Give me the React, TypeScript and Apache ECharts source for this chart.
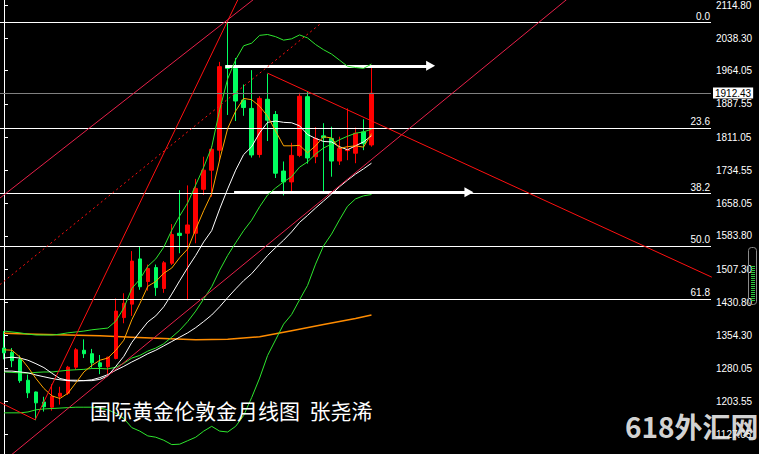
import React, { useEffect, useRef } from "react";
import * as echarts from "echarts";

// ---------- DATA ----------
const startYear = 2018;
const startMonth = 4;
const totalSlots = 89; // visible monthly slots (candles + empty future space)

const opens = [1326, 1316, 1300, 1252, 1225, 1202, 1190, 1215, 1222, 1282, 1321, 1313, 1292, 1283, 1302, 1396, 1427, 1531, 1479, 1511, 1463, 1521, 1590, 1590, 1590, 1691, 1735, 1781, 1975, 1969, 1896, 1877, 1771, 1898, 1863, 1733, 1708, 1769, 1904, 1766, 1814, 1808, 1756, 1780, 1774, 1823, 1793];
const highs = [1365, 1326, 1309, 1265, 1226, 1214, 1243, 1237, 1285, 1326, 1346, 1324, 1310, 1306, 1440, 1452, 1549, 1559, 1518, 1518, 1526, 1611, 1689, 1700, 1715, 1766, 1790, 1984, 2075, 1993, 1932, 1965, 1905, 1957, 1871, 1755, 1798, 1913, 1916, 1834, 1843, 1835, 1812, 1877, 1833, 1852, 1973];
const lows = [1300, 1282, 1246, 1211, 1160, 1180, 1182, 1196, 1218, 1276, 1303, 1281, 1266, 1266, 1300, 1383, 1400, 1460, 1458, 1446, 1453, 1517, 1544, 1436, 1567, 1678, 1674, 1757, 1862, 1848, 1860, 1764, 1764, 1802, 1717, 1677, 1686, 1765, 1750, 1751, 1687, 1720, 1747, 1758, 1751, 1781, 1789];
const closes = [1315, 1297, 1251, 1223, 1200, 1191, 1215, 1222, 1282, 1322, 1313, 1292, 1283, 1305, 1411, 1429, 1526, 1467, 1509, 1465, 1522, 1587, 1585, 1609, 1693, 1735, 1783, 1973, 1969, 1894, 1879, 1770, 1900, 1850, 1728, 1708, 1769, 1905, 1763, 1808, 1810, 1756, 1785, 1782, 1820, 1796, 1912];

// indicator lines read per candle
const ma5 = [1322, 1321, 1305, 1282, 1256, 1233, 1216, 1210, 1222, 1246, 1271, 1286, 1298, 1303, 1321, 1344, 1391, 1428, 1468, 1479, 1498, 1510, 1534, 1554, 1599, 1642, 1681, 1759, 1831, 1871, 1900, 1897, 1882, 1859, 1825, 1791, 1791, 1792, 1775, 1791, 1812, 1809, 1785, 1789, 1791, 1788, 1819];
const ma10 = [1303, 1305, 1303, 1298, 1290, 1281, 1268, 1256, 1252, 1252, 1251, 1251, 1254, 1262, 1284, 1307, 1339, 1363, 1386, 1400, 1421, 1450, 1481, 1511, 1539, 1570, 1596, 1646, 1692, 1735, 1771, 1789, 1821, 1845, 1848, 1845, 1844, 1837, 1817, 1808, 1801, 1800, 1789, 1782, 1791, 1800, 1814];
const ma30 = [1273, 1273, 1271, 1269, 1264, 1260, 1256, 1253, 1251, 1250, 1251, 1253, 1258, 1265, 1275, 1284, 1294, 1303, 1313, 1321, 1331, 1341, 1351, 1361, 1373, 1387, 1402, 1421, 1442, 1462, 1481, 1497, 1518, 1539, 1557, 1574, 1593, 1615, 1631, 1648, 1664, 1680, 1697, 1712, 1726, 1738, 1751];
const bbMid = [1271, 1270, 1269, 1268, 1270, 1271, 1271, 1273, 1275, 1276, 1277, 1279, 1279, 1278, 1282, 1291, 1303, 1309, 1319, 1326, 1336, 1351, 1367, 1387, 1411, 1439, 1467, 1505, 1539, 1568, 1596, 1620, 1651, 1678, 1694, 1708, 1720, 1742, 1754, 1772, 1786, 1795, 1805, 1813, 1820, 1823, 1829];
const bbUpper = [1365, 1363, 1361, 1358, 1356, 1356, 1356, 1358, 1361, 1363, 1365, 1368, 1370, 1372, 1388, 1418, 1463, 1484, 1514, 1531, 1558, 1597, 1630, 1660, 1701, 1742, 1788, 1874, 1945, 1989, 2021, 2027, 2045, 2047, 2042, 2034, 2037, 2046, 2039, 2024, 2012, 2002, 1988, 1974, 1971, 1969, 1979];
const bbLower = [1177, 1177, 1177, 1179, 1184, 1186, 1187, 1188, 1189, 1190, 1190, 1190, 1188, 1184, 1176, 1164, 1143, 1135, 1124, 1121, 1114, 1104, 1105, 1113, 1121, 1135, 1146, 1135, 1133, 1146, 1171, 1212, 1257, 1309, 1345, 1381, 1403, 1437, 1470, 1519, 1561, 1588, 1621, 1652, 1669, 1676, 1679];
const longMaIdx = [0, 4, 8, 12, 16, 20, 24, 28, 32, 36, 40, 44, 46];
const longMaVal = [1360, 1358, 1356, 1354, 1351, 1348, 1345, 1346, 1352, 1366, 1380, 1394, 1402];

// drawn objects: [slot index, price]
const steepLine = [[3.9, 1161], [29.3, 2128]];
const upperChannel = [[-0.5, 1671], [31.2, 2127]];
const midDashed = [[-0.5, 1472], [39.7, 2073]];
const lowerChannel = [[-0.5, 1059], [71, 2136]];
const leftLine = [[-0.5, 1201], [3.9, 1161]];
const downTrend = [[33, 1958], [88.6, 1489]];
const arrowUpper = [[27.7, 1975], [53.4, 1975]];
const arrowLower = [[28.8, 1684], [58.2, 1684]];

const fibHigh = 2075.5;
const fibLow = 1046;
const fibLevels = [0, 23.6, 38.2, 50, 61.8];
const lastPrice = 1912.43;

const yTicks = [2114.8, 2038.3, 1964.05, 1887.55, 1811.05, 1734.55, 1658.05, 1583.8, 1507.3, 1430.8, 1354.3, 1280.05, 1203.55, 1127.05];
const yMin = 1082.38;
const yMax = 2126.3;

const titleText = "国际黄金伦敦金月线图  张尧浠";
const watermark = "618外汇网";

// ---------- COMPONENT ----------
export default function App() {
  const ref = useRef<HTMLDivElement>(null);

  useEffect(() => {
    document.body.style.margin = "0";
    document.body.style.background = "#000";
    if (!ref.current) return;
    const chart = echarts.init(ref.current, undefined, { renderer: "svg" });

    const cats: string[] = [];
    for (let i = 0; i < totalSlots; i++) {
      const m = startMonth - 1 + i;
      const y = startYear + Math.floor(m / 12);
      cats.push(`${y}-${String((m % 12) + 1).padStart(2, "0")}`);
    }

    const lineSeries = (data: number[][], color: string, width: number, z: number, type: any = "solid") => ({
      type: "line",
      xAxisIndex: 1,
      yAxisIndex: 0,
      data,
      symbol: "none",
      silent: true,
      z,
      lineStyle: { color, width, type },
    });
    const perCandle = (arr: number[]) => arr.map((v, i) => [i, v]);

    const fibMark = fibLevels.map((lv) => ({
      yAxis: fibHigh - (fibHigh - fibLow) * lv / 100,
      label: {
        show: true,
        position: "insideEndTop",
        formatter: lv.toFixed(1),
        color: "#fff",
        fontSize: 10,
        fontFamily: "Liberation Sans",
        distance: 1,
      },
    }));

    const stripes: any[] = [];
    for (let k = 0; k < 18; k++) {
      stripes.push({
        type: "line",
        shape: { x1: 751, y1: 266.5 + k * 2, x2: 755, y2: 266.5 + k * 2 },
        style: { stroke: "#2ecc40", lineWidth: 1 },
        z: 100,
      });
    }

    const option: any = {
      animation: false,
      backgroundColor: "#000",
      grid: { left: -1.5, right: 48, top: 0, bottom: 0 },
      xAxis: [
        { type: "category", data: cats, show: false, boundaryGap: true },
        { type: "value", min: -0.5, max: totalSlots - 0.5, show: false },
      ],
      yAxis: {
        type: "value",
        position: "right",
        min: yMin,
        max: yMax,
        splitLine: { show: false },
        axisLine: { show: true, lineStyle: { color: "#fff", width: 1 } },
        axisTick: { show: true, length: 4, lineStyle: { color: "#fff" }, customValues: yTicks },
        axisLabel: {
          color: "#fff",
          fontSize: 10,
          fontFamily: "Liberation Sans",
          margin: 5,
          customValues: yTicks,
          formatter: (v: number) => v.toFixed(2),
        },
      },
      series: [
        lineSeries(longMaIdx.map((x, i) => [x, longMaVal[i]]), "#ff8c00", 1.5, 2),
        {
          type: "candlestick",
          xAxisIndex: 0,
          yAxisIndex: 0,
          barWidth: 4,
          z: 3,
          data: opens.map((o, i) => [o, closes[i], lows[i], highs[i]]),
          itemStyle: {
            color: "#ff0000",
            color0: "#00ff60",
            borderColor: "#ff0000",
            borderColor0: "#00ff60",
            borderWidth: 1,
          },
        },
        {
          type: "line",
          xAxisIndex: 1,
          yAxisIndex: 0,
          data: [],
          z: 4,
          silent: true,
          markLine: {
            silent: true,
            symbol: "none",
            animation: false,
            lineStyle: { color: "#fff", width: 1, type: "solid" },
            data: [
              ...fibMark,
              {
                yAxis: lastPrice,
                lineStyle: { color: "#808080", width: 1, type: "solid" },
                label: {
                  show: true,
                  position: "end",
                  formatter: lastPrice.toFixed(2),
                  backgroundColor: "#fff",
                  color: "#000",
                  fontSize: 10,
                  fontFamily: "Liberation Sans",
                  padding: [1, 2, 0, 2],
                  distance: 2,
                },
              },
            ],
          },
        },
        lineSeries(perCandle(bbUpper), "#2ee62e", 1, 5),
        lineSeries(perCandle(bbMid), "#2ee62e", 1, 5),
        lineSeries(perCandle(bbLower), "#2ee62e", 1, 5),
        lineSeries(perCandle(ma30), "#ffffff", 1, 5),
        lineSeries(perCandle(ma10), "#ffffff", 1, 5),
        lineSeries(perCandle(ma5), "#ffa500", 1, 5),
        lineSeries(steepLine, "#ff1010", 1, 6),
        lineSeries(upperChannel, "#e8204a", 1, 6),
        lineSeries(midDashed, "#ff1010", 1, 6, [2, 3]),
        lineSeries(lowerChannel, "#e8204a", 1, 6),
        lineSeries(leftLine, "#ff1010", 1, 6),
        lineSeries(downTrend, "#ff1010", 1, 6),
        {
          type: "line",
          xAxisIndex: 1,
          yAxisIndex: 0,
          data: [],
          z: 7,
          silent: true,
          markLine: {
            silent: true,
            animation: false,
            symbol: ["none", "triangle"],
            symbolSize: [10, 9],
            label: { show: false },
            lineStyle: { color: "#ffffff", width: 3, type: "solid" },
            data: [
              [{ coord: arrowUpper[0] }, { coord: arrowUpper[1] }],
              [{ coord: arrowLower[0] }, { coord: arrowLower[1] }],
            ],
          },
        },
      ],
      graphic: [
        {
          type: "text",
          left: 90,
          top: 399,
          z: 100,
          style: { text: titleText, fill: "#ffffff", fontSize: 21, fontFamily: "Noto Sans CJK SC" },
        },
        {
          type: "rect",
          shape: { x: 748.5, y: 247.5, width: 8, height: 57, r: 3 },
          style: { fill: "none", stroke: "#8a8a8a", lineWidth: 1 },
          z: 100,
        },
        ...stripes,
        {
          type: "text",
          left: 625,
          top: 412,
          z: 110,
          style: {
            text: watermark,
            fill: "rgba(232,232,232,0.93)",
            fontSize: 28,
            lineHeight: 28,
            fontWeight: "bold",
            fontFamily: "Noto Sans CJK SC",
          },
        },
      ],
    };

    chart.setOption(option);
    return () => chart.dispose();
  }, []);

  return <div ref={ref} style={{ width: 759, height: 454, background: "#000" }} />;
}
